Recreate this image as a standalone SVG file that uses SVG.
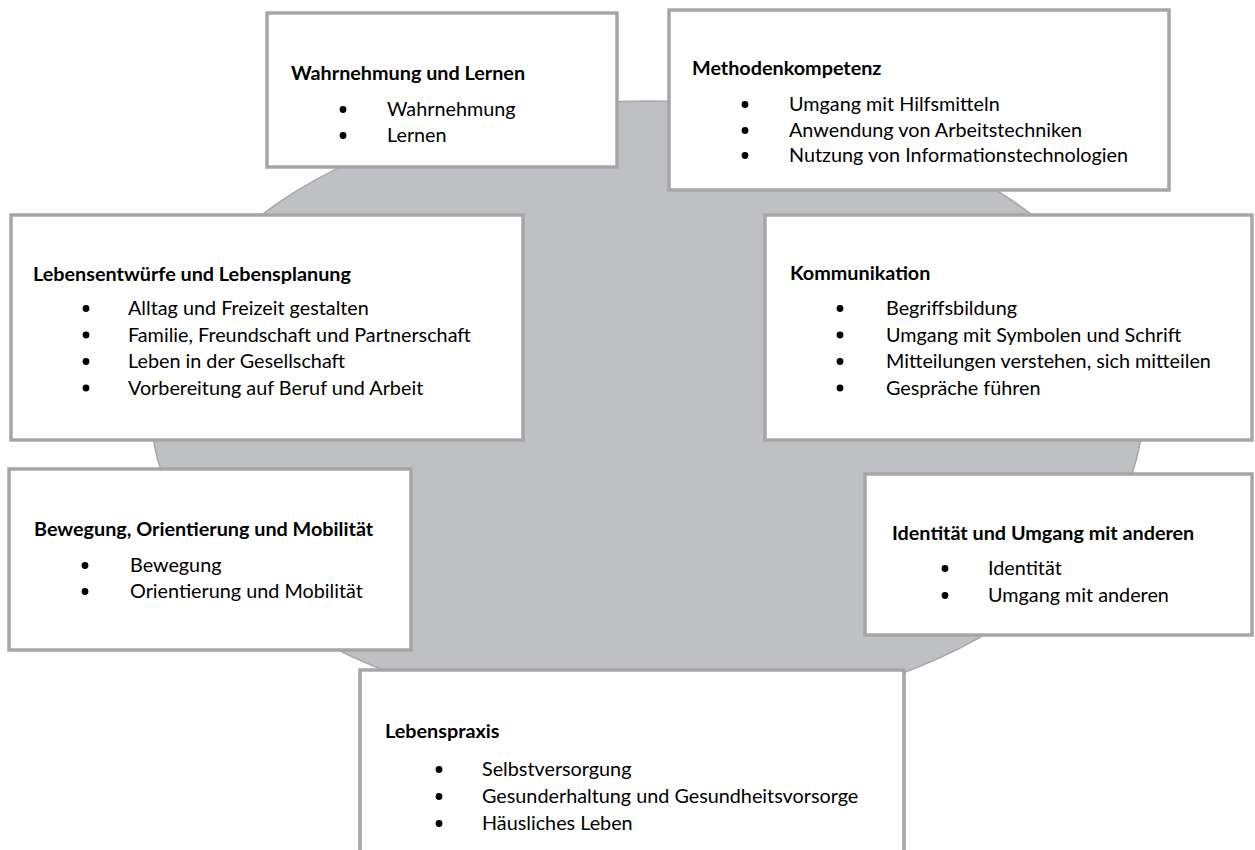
<svg xmlns="http://www.w3.org/2000/svg" width="1255" height="850" viewBox="0 0 1255 850">
<style>
.box{fill:#ffffff;stroke:#a6a6a6;stroke-width:3.5}
.t{font-family:Lato,"Liberation Sans",sans-serif;font-weight:bold;font-size:19.8px;fill:#000}
.i{font-family:Lato,"Liberation Sans",sans-serif;font-size:19.8px;fill:#000}
.b{fill:#000}
</style>
<rect width="1255" height="850" fill="#ffffff"/>
<g id="background">
<ellipse cx="647" cy="409" rx="496" ry="308" fill="#bfc0c4" stroke="#a6a6a8" stroke-width="1.5"/>
</g>
<g id="connectors"></g>
<g id="wahrnehmung">
<rect class="box" x="267" y="13" width="350" height="154"/>
<text class="t" x="291" y="80">Wahrnehmung und Lernen</text>
<circle class="b" cx="343" cy="109.5" r="3.4"/><text class="i" x="387" y="116">Wahrnehmung</text>
<circle class="b" cx="343" cy="135.5" r="3.4"/><text class="i" x="387" y="142">Lernen</text>
</g>
<g id="methoden">
<rect class="box" x="669" y="10" width="500" height="180"/>
<text class="t" x="692" y="75">Methodenkompetenz</text>
<circle class="b" cx="745" cy="104.5" r="3.4"/><text class="i" x="789" y="111">Umgang mit Hilfsmitteln</text>
<circle class="b" cx="745" cy="130.5" r="3.4"/><text class="i" x="789" y="137">Anwendung von Arbeitstechniken</text>
<circle class="b" cx="745" cy="155.5" r="3.4"/><text class="i" x="789" y="162">Nutzung von Informationstechnologien</text>
</g>
<g id="lebensentwuerfe">
<rect class="box" x="11" y="215" width="512" height="225"/>
<text class="t" x="33" y="281">Lebensentwürfe und Lebensplanung</text>
<circle class="b" cx="86" cy="308.5" r="3.4"/><text class="i" x="128" y="315">Alltag und Freizeit gestalten</text>
<circle class="b" cx="86" cy="335" r="3.4"/><text class="i" x="128" y="341.5">Familie, Freundschaft und Partnerschaft</text>
<circle class="b" cx="86" cy="361.5" r="3.4"/><text class="i" x="128" y="368">Leben in der Gesellschaft</text>
<circle class="b" cx="86" cy="388" r="3.4"/><text class="i" x="128" y="394.5">Vorbereitung auf Beruf und Arbeit</text>
</g>
<g id="kommunikation">
<rect class="box" x="765" y="215" width="487" height="225"/>
<text class="t" x="790" y="280">Kommunikation</text>
<circle class="b" cx="840" cy="308.5" r="3.4"/><text class="i" x="886" y="315">Begriffsbildung</text>
<circle class="b" cx="840" cy="335" r="3.4"/><text class="i" x="886" y="341.5">Umgang mit Symbolen und Schrift</text>
<circle class="b" cx="840" cy="361.5" r="3.4"/><text class="i" x="886" y="368">Mitteilungen verstehen, sich mitteilen</text>
<circle class="b" cx="840" cy="388" r="3.4"/><text class="i" x="886" y="394.5">Gespräche führen</text>
</g>
<g id="bewegung">
<rect class="box" x="9" y="469" width="402" height="181"/>
<text class="t" x="34" y="536">Bewegung, Orientierung und Mobilität</text>
<circle class="b" cx="85" cy="565.5" r="3.4"/><text class="i" x="130" y="572">Bewegung</text>
<circle class="b" cx="85" cy="591.5" r="3.4"/><text class="i" x="130" y="598">Orientierung und Mobilität</text>
</g>
<g id="identitaet">
<rect class="box" x="865" y="474" width="387" height="161"/>
<text class="t" x="892" y="540">Identität und Umgang mit anderen</text>
<circle class="b" cx="945" cy="568.5" r="3.4"/><text class="i" x="988" y="575">Identität</text>
<circle class="b" cx="945" cy="595.5" r="3.4"/><text class="i" x="988" y="602">Umgang mit anderen</text>
</g>
<g id="lebenspraxis">
<rect class="box" x="360" y="670" width="544" height="200"/>
<text class="t" x="385" y="738">Lebenspraxis</text>
<circle class="b" cx="439" cy="769.5" r="3.4"/><text class="i" x="482" y="776">Selbstversorgung</text>
<circle class="b" cx="439" cy="796.5" r="3.4"/><text class="i" x="482" y="803">Gesunderhaltung und Gesundheitsvorsorge</text>
<circle class="b" cx="439" cy="823.5" r="3.4"/><text class="i" x="482" y="830">Häusliches Leben</text>
</g>
</svg>
